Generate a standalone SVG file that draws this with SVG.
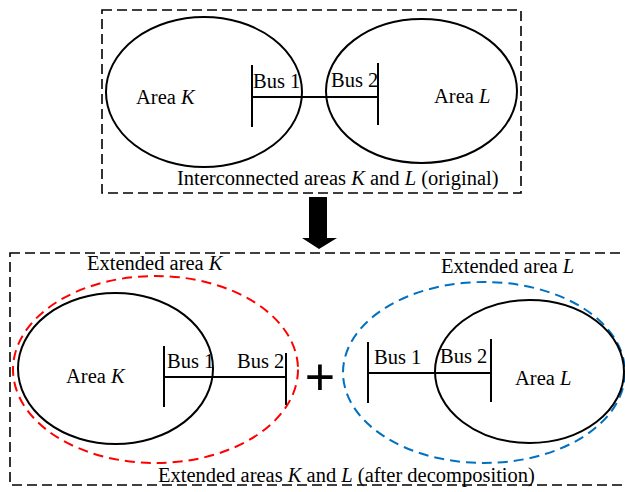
<svg xmlns="http://www.w3.org/2000/svg" width="625" height="492" viewBox="0 0 625 492">
<style>
text{font-family:"Liberation Serif","Times New Roman",serif;font-size:20.5px;fill:#000}
.i{font-style:italic}
.frame{fill:none;stroke:#000;stroke-width:1.6;stroke-dasharray:10 5}
.area{fill:none;stroke:#000;stroke-width:2}
.bus{stroke:#000;stroke-width:2;fill:none}
.ext{fill:none;stroke-width:2;stroke-dasharray:10 6}
</style>
<rect id="frame-top" class="frame" x="102" y="10" width="419" height="183"/>
<rect id="frame-bottom" class="frame" x="10" y="253" width="625" height="232"/>

<g id="top-areaK">
<ellipse class="area" cx="204" cy="92" rx="98" ry="75"/>
<text x="136" y="104">Area <tspan class="i">K</tspan></text>
</g>
<g id="top-areaL">
<ellipse class="area" cx="421.5" cy="91" rx="95.5" ry="72"/>
<text x="434" y="103">Area <tspan class="i">L</tspan></text>
</g>
<g id="top-bus1">
<line class="bus" x1="252" y1="65" x2="252" y2="127"/>
<text x="253" y="88">Bus 1</text>
</g>
<g id="top-bus2">
<line class="bus" x1="378" y1="63" x2="378" y2="125"/>
<text x="331" y="87">Bus 2</text>
</g>
<text id="caption-top" x="177" y="185">Interconnected areas <tspan class="i">K</tspan> and <tspan class="i">L</tspan> (original)</text>

<g id="connectors">
<line class="bus" x1="252" y1="97" x2="378" y2="97"/>
<line class="bus" x1="164" y1="377" x2="286" y2="377"/>
<line class="bus" x1="368" y1="373" x2="491" y2="373"/>
<polygon points="309,197 327,197 327,238 337,238 319,249 302,238 309,238" fill="#000"/>
</g>

<g id="ext-areaK">
<ellipse class="ext" stroke="#FF0000" cx="155.5" cy="369.5" rx="142.5" ry="93.5"/>
<text x="87" y="270">Extended area <tspan class="i">K</tspan></text>
</g>
<g id="bottom-areaK">
<ellipse class="area" cx="115.5" cy="368.5" rx="97.5" ry="75.5"/>
<text x="66" y="383">Area <tspan class="i">K</tspan></text>
</g>
<g id="bottom-K-bus1">
<line class="bus" x1="164" y1="346" x2="164" y2="407"/>
<text x="167" y="368">Bus 1</text>
</g>
<g id="bottom-K-bus2">
<line class="bus" x1="286" y1="353" x2="286" y2="405"/>
<text x="237" y="368">Bus 2</text>
</g>

<text id="plus" x="320" y="395" text-anchor="middle" style="font-family:'Liberation Sans',Arial,sans-serif;font-size:52px">+</text>

<g id="ext-areaL">
<ellipse class="ext" stroke="#0070C0" cx="484" cy="372.5" rx="141" ry="90.5"/>
<text x="441" y="273">Extended area <tspan class="i">L</tspan></text>
</g>
<g id="bottom-areaL">
<ellipse class="area" cx="529.5" cy="371.5" rx="94.5" ry="71.5"/>
<text x="515" y="385">Area <tspan class="i">L</tspan></text>
</g>
<g id="bottom-L-bus1">
<line class="bus" x1="368" y1="342" x2="368" y2="403"/>
<text x="374" y="364">Bus 1</text>
</g>
<g id="bottom-L-bus2">
<line class="bus" x1="491" y1="339" x2="491" y2="402"/>
<text x="440" y="363">Bus 2</text>
</g>
<text id="caption-bottom" x="158" y="482">Extended areas <tspan class="i">K</tspan> and <tspan class="i">L</tspan> (after decomposition)</text>
</svg>
